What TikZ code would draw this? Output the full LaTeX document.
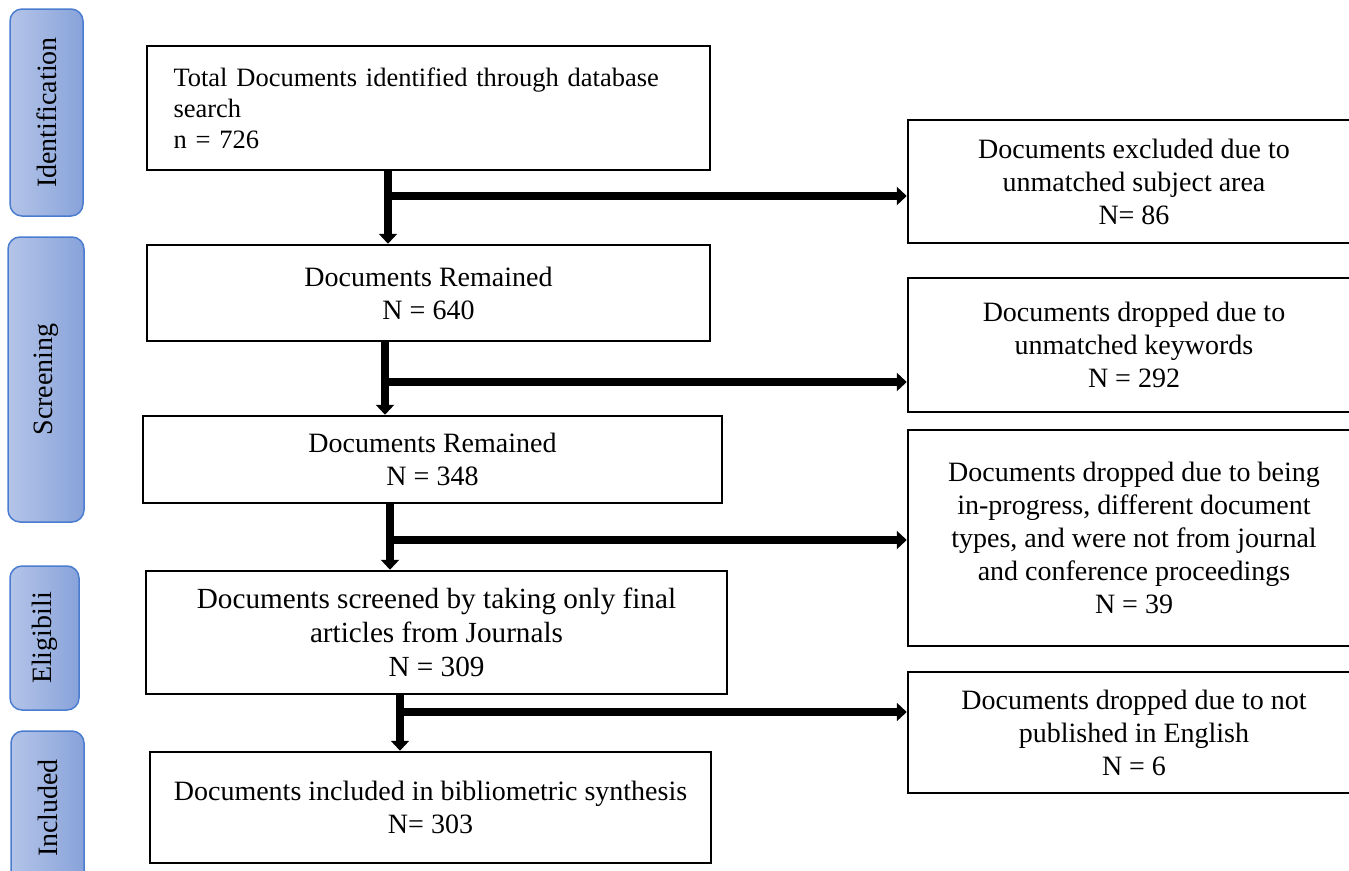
\documentclass[tikz,border=0pt]{standalone}
\usepackage{fontspec}
\setmainfont{Liberation Serif}
\usetikzlibrary{arrows.meta}
\definecolor{sideL}{HTML}{B4C4E8}
\definecolor{sideR}{HTML}{88A3DA}
\definecolor{sideB}{HTML}{4A7CCF}
\tikzset{
  box/.style={draw=black, line width=2.5pt, inner sep=0pt, align=center, font=\fontsize{28}{33}\selectfont},
  side/.style={draw=sideB, line width=1.5pt, rounded corners=12pt, left color=sideL, right color=sideR, inner sep=0pt},
  sidetext/.style={rotate=90, inner sep=0pt, font=\fontsize{28}{33}\selectfont},
  flow/.style={line width=8pt, -{Triangle[width=18pt,length=10pt]}},
}
\begin{document}
\begin{tikzpicture}[x=1pt,y=1pt]
\useasboundingbox (0,0) rectangle (1349,-870);
% side labels
\node[side, minimum width=73pt, minimum height=207pt] (s1) at (46.5,-112.5) {};
\node[sidetext] (s1t) at (s1) {Identification};
\node[side, minimum width=76pt, minimum height=285pt] (s2) at (46,-379.5) {};
\node[sidetext] (s2t) at (s2) {Screening};
\node[side, minimum width=69pt, minimum height=144pt] (s3) at (44.5,-638) {};
\node[sidetext] (s3t) at (s3) {Eligibili};
\node[side, minimum width=73pt, minimum height=160pt] (s4) at (47.5,-811) {};
\node[sidetext] (s4t) at (47.5,-808) {Included};
% main boxes
\node[box, align=left, text width=510pt, minimum width=563pt, minimum height=124pt, font=\fontsize{26.5}{31}\selectfont] (b1) at (428.5,-108)
  {Total Documents identified through database\\search\\n = 726};
\node[box, minimum width=563pt, minimum height=96pt] (b2) at (428.5,-293) {Documents Remained\\N = 640};
\node[box, minimum width=579pt, minimum height=87pt] (b3) at (432.5,-459.5) {Documents Remained\\N = 348};
\node[box, minimum width=581pt, minimum height=123pt, font=\fontsize{29.2}{34}\selectfont] (b4) at (436.5,-632.5) {Documents screened by taking only final\\articles from Journals\\N = 309};
\node[box, minimum width=561pt, minimum height=111pt] (b5) at (430.5,-807.5) {Documents included in bibliometric synthesis\\N= 303};
% right boxes
\node[box, minimum width=452pt, minimum height=123pt] (r1) at (1134,-181.5) {Documents excluded due to\\unmatched subject area\\N= 86};
\node[box, minimum width=452pt, minimum height=134pt] (r2) at (1134,-345) {Documents dropped due to\\unmatched keywords\\N = 292};
\node[box, minimum width=452pt, minimum height=216pt] (r3) at (1134,-538) {Documents dropped due to being\\in-progress, different document\\types, and were not from journal\\and conference proceedings\\N = 39};
\node[box, minimum width=452pt, minimum height=121pt] (r4) at (1134,-732.5) {Documents dropped due to not\\published in English\\N = 6};
% connectors
\coordinate (v1) at (388,-196);
\coordinate (v2) at (385,-382);
\coordinate (v3) at (390,-540);
\coordinate (v4) at (400,-712);
\draw[flow] (b1.south -| v1) -- (b2.north -| v1);
\draw[flow] (v1) -- (v1 -| r1.west);
\draw[flow] (b2.south -| v2) -- (b3.north -| v2);
\draw[flow] (v2) -- (v2 -| r2.west);
\draw[flow] (b3.south -| v3) -- (b4.north -| v3);
\draw[flow] (v3) -- (v3 -| r3.west);
\draw[flow] (b4.south -| v4) -- (b5.north -| v4);
\draw[flow] (v4) -- (v4 -| r4.west);
\end{tikzpicture}
\end{document}
